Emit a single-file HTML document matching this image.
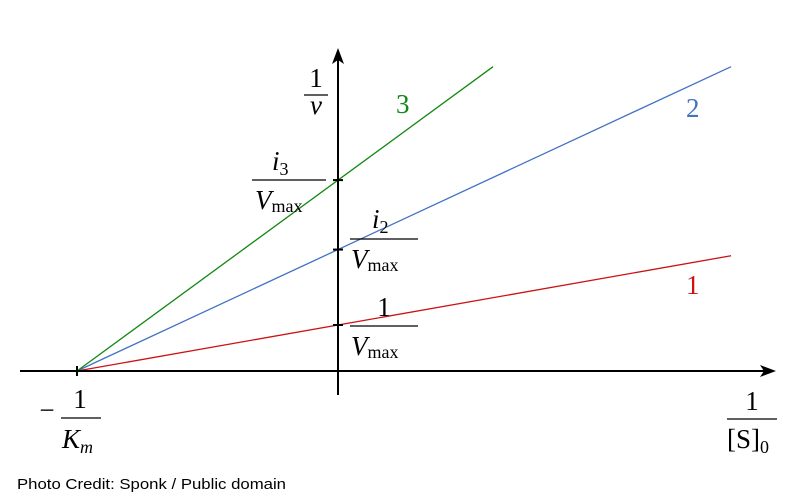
<!DOCTYPE html>
<html><head><meta charset="utf-8"><style>
body{margin:0;background:#fff;}
svg{display:block;}
text{font-family:"Liberation Serif",serif;font-size:27px;fill:#000;}
.it{font-style:italic;}
.cr{font-family:"Liberation Sans",sans-serif;font-size:15px;}
</style></head><body>
<svg id="chart" width="798" height="501" viewBox="0 0 798 501" xmlns="http://www.w3.org/2000/svg">
<g id="lines"></g>
<g>
<line x1="20" y1="371" x2="768" y2="371" stroke="#000" stroke-width="2"/>
<polygon points="776,371 760,365 764,371 760,377" fill="#000"/>
</g>
<g>
<line x1="338" y1="395" x2="338" y2="56" stroke="#000" stroke-width="2"/>
<polygon points="338,48 332,64 338,60 344,64" fill="#000"/>
</g>
<g id="ticks"></g>
<g>
<text x="316" y="87" text-anchor="middle">1</text>
<line x1="304" y1="95" x2="328" y2="95" stroke="#000" stroke-width="1.2"/>
<text x="316" y="114" text-anchor="middle" class="it">v</text>
</g>
<g>
<text x="752" y="410" text-anchor="middle">1</text>
<line x1="727" y1="419" x2="777" y2="419" stroke="#000" stroke-width="1.2"/>
<text x="727" y="448">[S]<tspan font-size="18" dy="5">0</tspan></text>
</g>
<g>
<text x="47" y="419" text-anchor="middle">−</text>
<text x="80" y="408" text-anchor="middle">1</text>
<line x1="61" y1="418" x2="101" y2="418" stroke="#000" stroke-width="1.2"/>
<text x="62" y="448" class="it">K<tspan font-size="18" dy="5">m</tspan></text>
</g>
<g>
<text x="272" y="170" class="it">i<tspan font-size="18" dy="5" font-style="normal">3</tspan></text>
<line x1="252" y1="180" x2="326" y2="180" stroke="#000" stroke-width="1.2"/>
<text x="255" y="209" class="it">V<tspan font-size="18" dy="3" font-style="normal">max</tspan></text>
</g>
<g>
<text x="372" y="228" class="it">i<tspan font-size="18" dy="5" font-style="normal">2</tspan></text>
<line x1="350" y1="239" x2="418" y2="239" stroke="#000" stroke-width="1.2"/>
<text x="351" y="268" class="it">V<tspan font-size="18" dy="3" font-style="normal">max</tspan></text>
</g>
<g>
<text x="384" y="316" text-anchor="middle">1</text>
<line x1="350" y1="326" x2="418" y2="326" stroke="#000" stroke-width="1.2"/>
<text x="351" y="355" class="it">V<tspan font-size="18" dy="3" font-style="normal">max</tspan></text>
</g>
<text x="396" y="113" style="fill:#118811">3</text>
<text x="686" y="117" style="fill:#4472c4">2</text>
<text x="686" y="294" style="fill:#cc1111">1</text>
<text class="cr" x="17" y="489" textLength="269" lengthAdjust="spacingAndGlyphs">Photo Credit: Sponk / Public domain</text>
</svg>
<script>
const seriesNames = ["1", "2", "3"];
const intercepts = [1.0, 2.64, 4.15];   // 1/v at 1/[S]0 = 0, in units of 1/Vmax
const xEnds = [1.506, 1.506, 0.594];    // 1/[S]0 where each line ends
const xStart = -1;                      // -1/Km
const colors = ["#cc1111", "#4472c4", "#118811"];
const x0 = 338, y0 = 371, xUnit = 261, yUnit = 46;
const sx = v => x0 + v * xUnit;
const sy = v => y0 - v * yUnit;
const ns = "http://www.w3.org/2000/svg";
const g = document.getElementById("lines");
const tg = document.getElementById("ticks");
intercepts.forEach((b, i) => {
  const f = x => b * (x - xStart) / (0 - xStart);
  const l = document.createElementNS(ns, "line");
  
  
  l.setAttribute("x1", sx(xStart)); l.setAttribute("y1", sy(f(xStart)));
  l.setAttribute("x2", sx(xEnds[i])); l.setAttribute("y2", sy(f(xEnds[i])));
  l.setAttribute("stroke", colors[i]); l.setAttribute("stroke-width", "1.3");
  g.appendChild(l);
  const t = document.createElementNS(ns, "line");
  
  
  t.setAttribute("x1", x0 - 5); t.setAttribute("x2", x0 + 5);
  t.setAttribute("y1", sy(b)); t.setAttribute("y2", sy(b));
  t.setAttribute("stroke", "#000"); t.setAttribute("stroke-width", "2");
  tg.appendChild(t);
});
const kt = document.createElementNS(ns, "line");


kt.setAttribute("x1", sx(xStart)); kt.setAttribute("x2", sx(xStart));
kt.setAttribute("y1", y0 - 5); kt.setAttribute("y2", y0 + 5);
kt.setAttribute("stroke", "#000"); kt.setAttribute("stroke-width", "2");
tg.appendChild(kt);
</script>
</body></html>
